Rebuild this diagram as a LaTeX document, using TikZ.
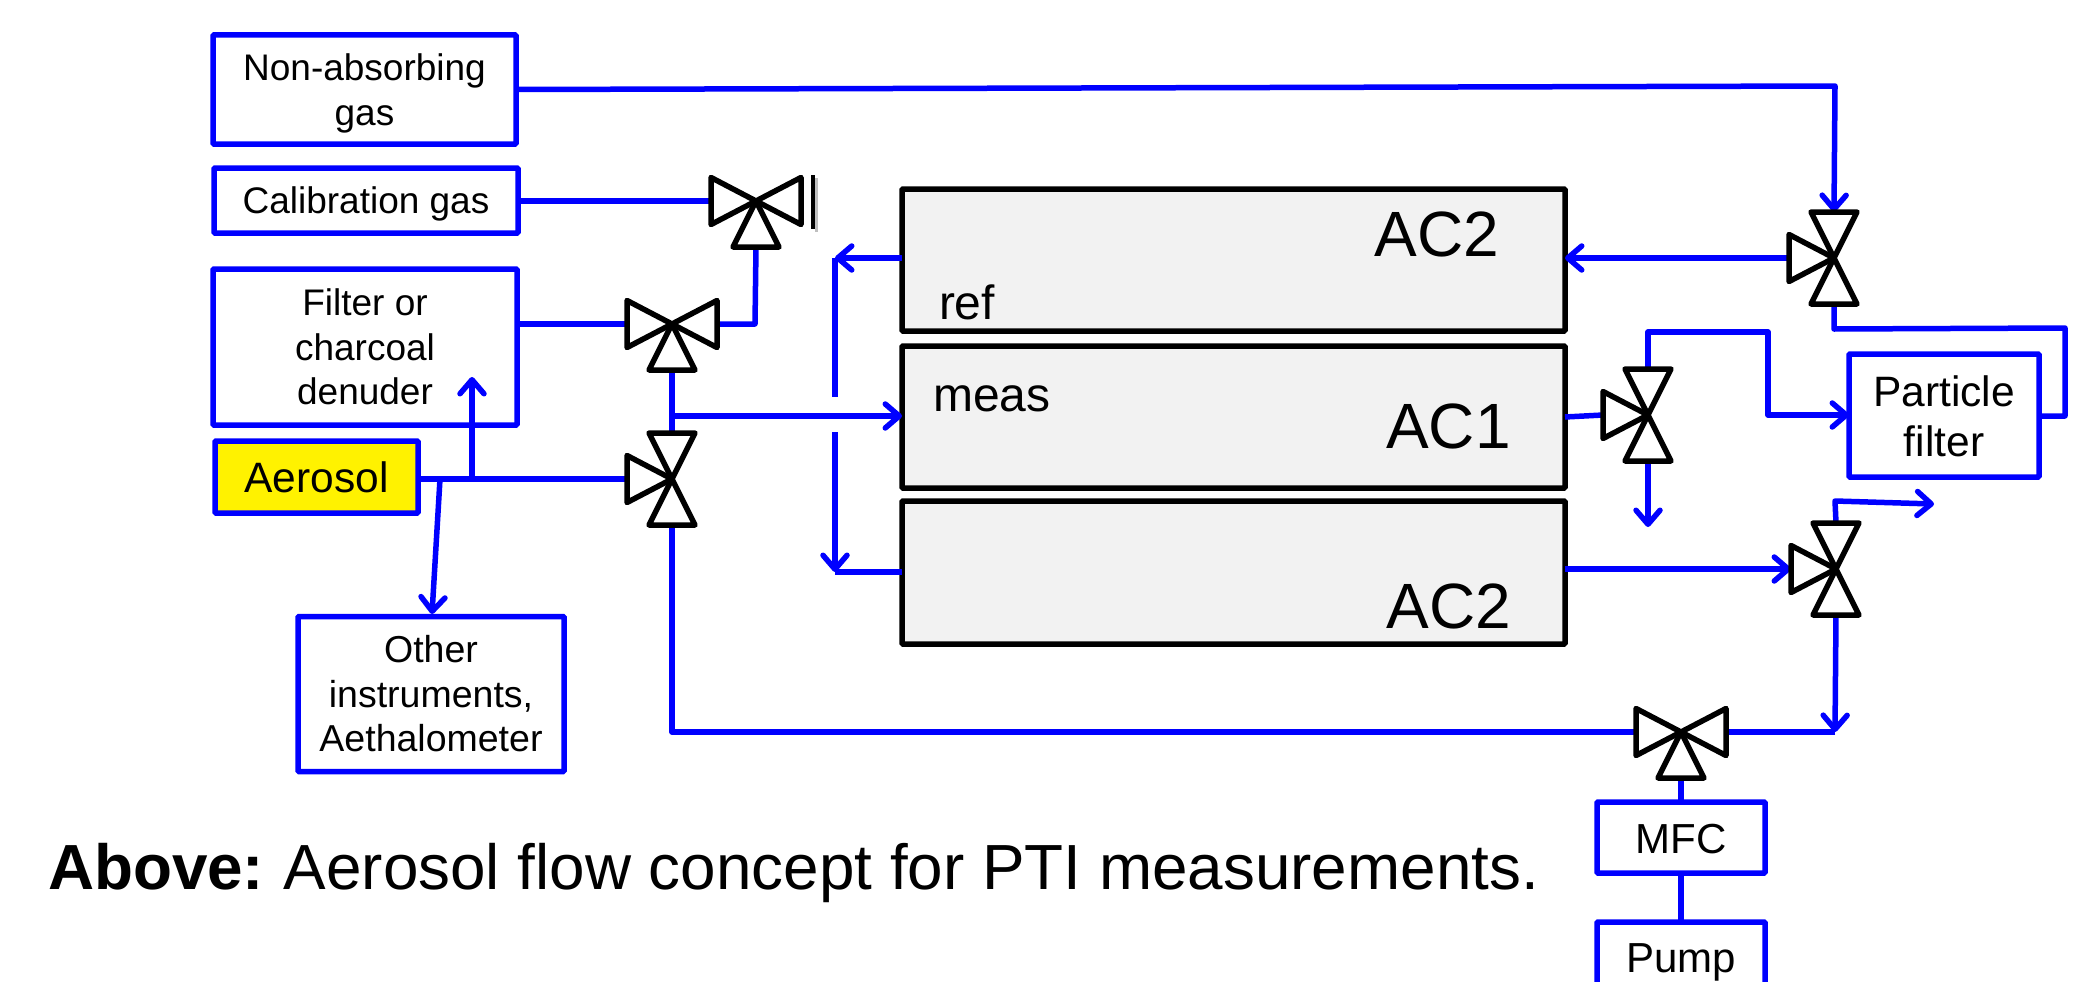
\documentclass[tikz,border=0pt]{standalone}
\usepackage{fontspec}
\setmainfont{Liberation Sans}
\usetikzlibrary{arrows.meta,calc}
\definecolor{flow}{RGB}{0,0,255}
\definecolor{cell}{RGB}{242,242,242}
\newcommand{\fs}[2]{\fontsize{#1}{#2}\selectfont}
\newcommand{\tb}[2]{\raisebox{#1}[\height][\depth]{\begin{tabular}{@{}c@{}}#2\end{tabular}}}
\newcommand{\low}[2]{\raisebox{#1}[\height][\depth]{#2}}
\newcommand{\vports}[1]{%
  \coordinate (#1-l) at ($(#1)+(-45,0)$);
  \coordinate (#1-r) at ($(#1)+(45,0)$);
  \coordinate (#1-t) at ($(#1)+(0,-46)$);
  \coordinate (#1-b) at ($(#1)+(0,46)$);}
\newcommand{\vL}[1]{\draw[valveline] (#1) -- ($(#1-l)+(0,-23.5)$) -- ($(#1-l)+(0,23.5)$) -- cycle;}
\newcommand{\vR}[1]{\draw[valveline] (#1) -- ($(#1-r)+(0,-23.5)$) -- ($(#1-r)+(0,23.5)$) -- cycle;}
\newcommand{\vT}[1]{\draw[valveline] (#1) -- ($(#1-t)+(-23,0)$) -- ($(#1-t)+(23,0)$) -- cycle;}
\newcommand{\vB}[1]{\draw[valveline] (#1) -- ($(#1-b)+(-23,0)$) -- ($(#1-b)+(23,0)$) -- cycle;}
\tikzset{
  x=1pt,y=-1pt,
  box/.style={draw=flow,line width=5.5pt,fill=white,rounded corners=1pt,inner sep=0pt,outer sep=0pt,align=center,font=\fs{37}{44.5}},
  cellbox/.style={draw=black,line width=5.5pt,fill=cell,inner sep=0pt,outer sep=0pt,rounded corners=1pt},
  valveline/.style={draw=black,line width=5.5pt,line join=round},
  pipe/.style={draw=flow,line width=5.5pt,line join=round},
  flowarrow/.style={pipe,-{Straight Barb[length=14pt,width=24pt,round,line width=5.5pt]}},
  lbl/.style={inner sep=0pt,outer sep=0pt,text=black},
}
\begin{document}
\begin{tikzpicture}
\clip (0,0) rectangle (2085,982);
\fill[white] (0,0) rectangle (2085,982);
% boxes
\node[box,minimum width=303pt,minimum height=109pt] (nonabs) at (364.5,89.5) {\tb{-4.5pt}{Non-absorbing\\gas}};
\node[box,minimum width=304pt,minimum height=65pt] (calib) at (366,200.5) {\low{-3.5pt}{Calibration gas}};
\node[box,minimum width=304pt,minimum height=156pt] (filter) at (365,347) {Filter or\\charcoal\\denuder};
\node[box,fill=yellow,minimum width=203pt,minimum height=72pt,font=\fs{42.5}{50}] (aerosol) at (316.5,477) {Aerosol};
\node[box,minimum width=266pt,minimum height=155pt,font=\fs{37.5}{44.5}] (other) at (431,694) {Other\\instruments,\\Aethalometer};
\node[box,minimum width=190pt,minimum height=123pt,font=\fs{42.5}{50}] (pfilter) at (1944,415.5) {\tb{-6pt}{Particle\\filter}};
\node[box,minimum width=168pt,minimum height=71pt,font=\fs{42}{50}] (mfc) at (1681,837.5) {\low{-1.3pt}{MFC}};
\node[box,minimum width=168pt,minimum height=76pt,font=\fs{42}{50}] (pump) at (1681,960) {\low{-2pt}{Pump}};
% cells
\node[cellbox,minimum width=663pt,minimum height=142pt] (cellA) at (1233.5,260) {};
\node[cellbox,minimum width=663pt,minimum height=142pt] (cellB) at (1233.5,417) {};
\node[cellbox,minimum width=663pt,minimum height=143pt] (cellC) at (1233.5,572.5) {};
\node[lbl,font=\fs{64}{70}] (ac2a) at (1437,234) {AC2};
\node[lbl,font=\fs{64}{70}] (ac1) at (1448.5,426) {AC1};
\node[lbl,font=\fs{64}{70}] (ac2c) at (1449,606) {AC2};
\node[lbl,font=\fs{48}{54}] (ref) at (967,302) {ref};
\node[lbl,font=\fs{48}{54}] (meas) at (992,399) {meas};
% caption
\node[lbl,anchor=base west,font=\fs{63.8}{70}] (caption) at (48,889) {\textbf{Above:}\hspace{19.5pt}Aerosol flow concept for PTI measurements.};
% valves
\coordinate (v1) at (756,201); \vports{v1}
\coordinate (v2) at (672,324); \vports{v2}
\coordinate (v3) at (672,479); \vports{v3}
\coordinate (v4) at (1834,258); \vports{v4}
\coordinate (v5) at (1648,415); \vports{v5}
\coordinate (v6) at (1836,569); \vports{v6}
\coordinate (v7) at (1681,732); \vports{v7}
% junctions and corners
\coordinate (j1) at (755,324);
\coordinate (j2) at (472,479);
\coordinate (j3) at (440,479);
\coordinate (j4) at (672,416);
\coordinate (j5) at (835,258);
\coordinate (j6) at (835,397);
\coordinate (j7) at (835,432);
\coordinate (j8) at (835,572);
\coordinate (j9) at (672,732);
\coordinate (c1) at (1835,86);
\coordinate (c2) at (1834,329);
\coordinate (c3) at (2065,328);
\coordinate (c4) at (2065,416);
\coordinate (c5) at (1648,332);
\coordinate (c6) at (1768,332);
\coordinate (c7) at (1768,415);
\coordinate (c8) at (1648,527);
\coordinate (c9) at (1835,501);
\coordinate (c10) at (1934,504);
\coordinate (c11) at (1835,732);
\coordinate (f1) at (472,377);
\coordinate (f2) at (432,614);
% pipes
\draw[flowarrow] (nonabs.east) -- (c1) -- (v4-t);
\draw[pipe] (calib.east |- v1-l) -- (v1-l);
\draw[pipe] (v2-l -| filter.east) -- (v2-l);
\draw[pipe] (v2-r) -- (j1) -- (v1-b);
\draw[pipe] (v2-b) -- (v3-t);
\draw[flowarrow] (j4) -- (cellB.west |- j4);
\draw[pipe] (aerosol.east |- v3) -- (v3-l);
\draw[flowarrow] (j2) -- (f1);
\draw[flowarrow] (j3) -- (f2);
\draw[flowarrow] (cellA.west |- j5) -- (j5);
\draw[pipe] (j5) -- (j6);
\draw[flowarrow] (j7) -- (j8);
\draw[pipe] (j8) -- (cellC.west |- j8);
\draw[pipe] (v3-b) -- (j9) -- (v7-l);
\draw[flowarrow] (v4-l) -- (cellA.east |- v4);
\draw[pipe] (v4-b) -- (c2) -- (c3) -- (c4) -- (pfilter.east |- c4);
\draw[pipe] (cellB.east) -- (v5-l);
\draw[flowarrow] (v5-t) -- (c5) -- (c6) -- (c7) -- (pfilter.west |- c7);
\draw[flowarrow] (v5-b) -- (c8);
\draw[flowarrow] (cellC.east |- v6) -- (v6-l);
\draw[flowarrow] (v6-t) -- (c9) -- (c10);
\draw[flowarrow] (v6-b) -- (c11);
\draw[pipe] (c11) -- (v7-r);
\draw[pipe] (v7-b) -- (mfc.north);
\draw[pipe] (mfc.south) -- (pump.north);
% valve symbols
\vL{v1}\vR{v1}\vB{v1}
\vL{v2}\vR{v2}\vB{v2}
\vL{v3}\vT{v3}\vB{v3}
\vL{v4}\vT{v4}\vB{v4}
\vL{v5}\vT{v5}\vB{v5}
\vL{v6}\vT{v6}\vB{v6}
\vL{v7}\vR{v7}\vB{v7}
% closed end of the top valve
\coordinate (s1) at (813,175);
\coordinate (s2) at (813,229);
\draw[black!25,line width=3pt] ($(s1)+(3,3)$) -- ($(s2)+(3,3)$);
\draw[black,line width=4pt] (s1) -- (s2);
\end{tikzpicture}
\end{document}
